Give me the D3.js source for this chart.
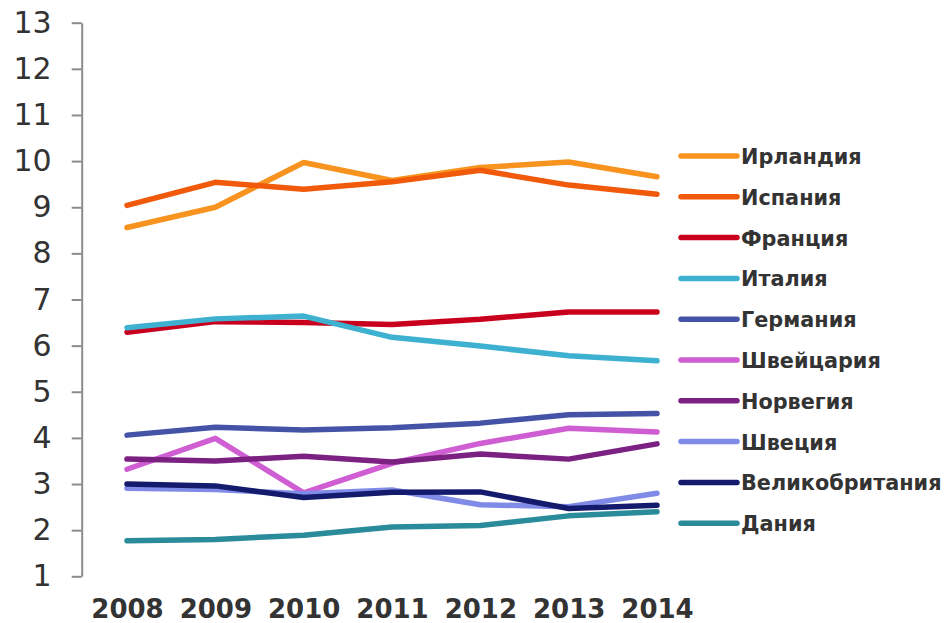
<!DOCTYPE html>
<html>
<head>
<meta charset="utf-8">
<script src="https://cdn.jsdelivr.net/npm/d3@7"></script>
<style>
    body { margin: 0; background: #fff; }
    svg { display: block; font-family: "DejaVu Sans", Verdana, sans-serif; }
</style>
</head>
<body>
<div class="line-graph"></div>
<script>
// data
var years = ["2008", "2009", "2010", "2011", "2012", "2013", "2014"];
var yTicks = [1, 2, 3, 4, 5, 6, 7, 8, 9, 10, 11, 12, 13];

var countries = ["Ирландия", "Испания", "Франция", "Италия", "Германия",
    "Швейцария", "Норвегия", "Швеция", "Великобритания", "Дания"];

var ireland     = [8.56, 9.00, 9.97, 9.58, 9.86, 9.98, 9.66];
var spain       = [9.04, 9.54, 9.39, 9.55, 9.80, 9.48, 9.28];
var france      = [6.29, 6.52, 6.50, 6.46, 6.57, 6.73, 6.73];
var italy       = [6.39, 6.58, 6.64, 6.18, 5.99, 5.78, 5.67];
var germany     = [4.06, 4.23, 4.17, 4.22, 4.32, 4.50, 4.53];
var switzerland = [3.32, 3.99, 2.81, 3.45, 3.88, 4.21, 4.13];
var norway      = [3.54, 3.50, 3.60, 3.48, 3.65, 3.54, 3.87];
var sweden      = [2.91, 2.88, 2.79, 2.87, 2.55, 2.51, 2.80];
var uk          = [3.00, 2.96, 2.71, 2.82, 2.83, 2.47, 2.54];
var denmark     = [1.77, 1.80, 1.89, 2.07, 2.10, 2.31, 2.40];

var seriesValues = [ireland, spain, france, italy, germany,
    switzerland, norway, sweden, uk, denmark];

var colors = ["#f7931e", "#f05a0a", "#c8001e", "#3db1cf", "#4553a6",
    "#d05ed3", "#7b2182", "#7f8be6", "#141b6c", "#2a8b9b"];

var width = 950, height = 623;

var svg = d3.select("div.line-graph").append("svg")
    .attr("width", width)
    .attr("height", height);

// scales
var x = d3.scalePoint()
    .domain(years)
    .range([127, 657]);

var y = d3.scaleLinear()
    .domain([1, 13])
    .range([576.3, 22.7]);

// y axis
var yAxis = svg.append("g")
    .attr("transform", "translate(81.7,0)")
    .call(d3.axisLeft(y).tickValues(yTicks).tickFormat(d3.format("d"))
        .tickSize(10).tickSizeOuter(0).tickPadding(20));
yAxis.select(".domain").attr("stroke", "#8c8c8c").attr("stroke-width", 2);
yAxis.selectAll(".tick line").attr("stroke", "#8c8c8c").attr("stroke-width", 2);
yAxis.selectAll(".tick text")
    .attr("fill", "#333")
    .style("font-size", "30px")
    .style("font-family", "'DejaVu Sans', Verdana, sans-serif");

// x axis, labels only
var xAxis = svg.append("g")
    .attr("transform", "translate(0,600)")
    .call(d3.axisBottom(x).tickSize(0).tickPadding(0));
xAxis.select(".domain").remove();
xAxis.selectAll(".tick text")
    .attr("fill", "#333")
    .attr("dy", "0.71em")
    .style("font-size", "26px")
    .style("font-weight", "bold")
    .style("font-family", "'DejaVu Sans', Verdana, sans-serif");

// lines
var line = d3.line()
    .x(function (d, i) { return x(years[i]); })
    .y(function (d) { return y(d); });

svg.selectAll(".series")
    .data(seriesValues)
    .enter().append("path")
    .attr("class", "series")
    .attr("d", line)
    .attr("fill", "none")
    .attr("stroke", function (d, i) { return colors[i]; })
    .attr("stroke-width", 5.5)
    .attr("stroke-linecap", "round")
    .attr("stroke-linejoin", "round");

// legend
var legend = svg.selectAll(".legend")
    .data(countries)
    .enter().append("g")
    .attr("class", "legend")
    .attr("transform", function (d, i) {
        return "translate(681," + (156 + i * 40.8) + ")";
    });

legend.append("line")
    .attr("x1", 0).attr("x2", 56)
    .attr("stroke", function (d, i) { return colors[i]; })
    .attr("stroke-width", 5.5)
    .attr("stroke-linecap", "round");

legend.append("text")
    .attr("x", 60)
    .attr("y", 8)
    .attr("fill", "#333")
    .style("font-size", "20.8px")
    .style("font-weight", "bold")
    .text(function (d) { return d; });
</script>
</body>
</html>
